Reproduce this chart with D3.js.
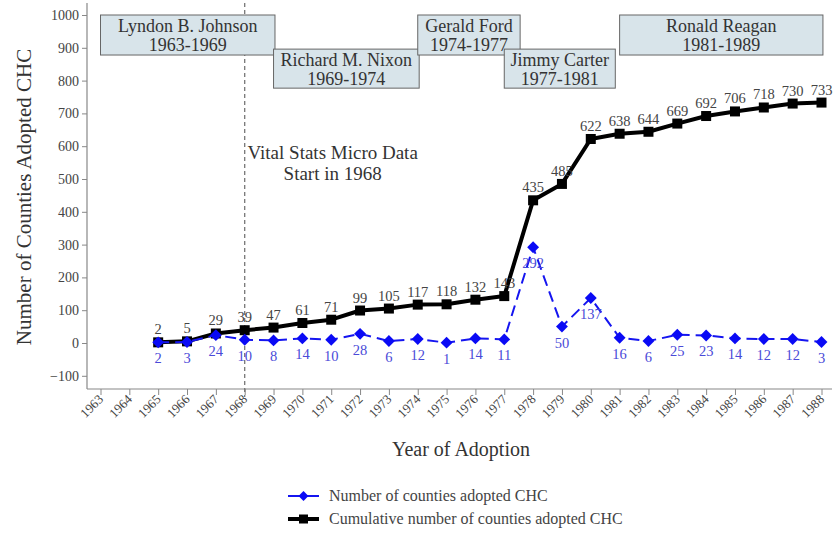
<!DOCTYPE html>
<html><head><meta charset="utf-8">
<script src="https://cdn.jsdelivr.net/npm/d3@7"></script>
<style>body{margin:0;background:#fff}svg{display:block}text{font-family:"Liberation Serif","DejaVu Serif",serif}</style>
</head><body>
<svg id="c" width="835" height="535"></svg>
<script>
const years = [1965,1966,1967,1968,1969,1970,1971,1972,1973,1974,1975,1976,1977,1978,1979,1980,1981,1982,1983,1984,1985,1986,1987,1988];
const adopted = [2,3,24,10,8,14,10,28,6,12,1,14,11,292,50,137,16,6,25,23,14,12,12,3];
const cumulative = [2,5,29,39,47,61,71,99,105,117,118,132,143,435,485,622,638,644,669,692,706,718,730,733];
const xTicks = d3.range(1963,1989);
const yTicks = [-100,0,100,200,300,400,500,600,700,800,900,1000];
const presidents = ["Lyndon B. Johnson","Richard M. Nixon","Gerald Ford","Jimmy Carter","Ronald Reagan"];
const terms = ["1963-1969","1969-1974","1974-1977","1977-1981","1981-1989"];
const boxStart = [1963,1969,1974,1977,1981];
const boxEnd = [1969.05,1974.05,1977.55,1980.85,1988.05];
const boxTop = [1000,896,1000,896,1000];
const boxBottom = [878,777,878,777,878];
const legendLabels = ["Number of counties adopted CHC","Cumulative number of counties adopted CHC"];

const svg = d3.select("#c");
const x = d3.scaleLinear().domain([1963,1988]).range([100.5,821.5]);
const y = d3.scaleLinear().domain([0,1000]).range([343,15]);
const plotLeft = 87, plotRight = 832, plotTop = 3, plotBottom = 389;

// axes
const yAxis = d3.axisLeft(y).tickValues(yTicks).tickFormat(d3.format("d")).tickSize(5).tickPadding(3);
const gy = svg.append("g").attr("transform",`translate(${plotLeft},0)`).call(yAxis);
gy.select(".domain").remove();
gy.selectAll("line").attr("stroke","#888");
gy.selectAll("text").attr("font-size",14).attr("fill","#444");
svg.append("line").attr("x1",plotLeft).attr("x2",plotLeft).attr("y1",plotTop).attr("y2",plotBottom).attr("stroke","#888").attr("stroke-width",1.2);

const xAxis = d3.axisBottom(x).tickValues(xTicks).tickFormat(d3.format("d")).tickSize(6);
const gx = svg.append("g").attr("transform",`translate(0,${plotBottom})`).call(xAxis);
gx.select(".domain").remove();
gx.selectAll("line").attr("stroke","#888");
gx.selectAll("text").attr("font-size",13).attr("fill","#444")
  .attr("text-anchor","end").attr("dy",null).attr("y",0)
  .attr("transform","translate(3,11) rotate(-45)");
svg.append("line").attr("x1",plotLeft).attr("x2",plotRight).attr("y1",plotBottom).attr("y2",plotBottom).attr("stroke","#888").attr("stroke-width",1.2);

// 1968 dashed line
svg.append("line").attr("x1",x(1968)).attr("x2",x(1968)).attr("y1",plotTop).attr("y2",plotBottom+8)
  .attr("stroke","#777").attr("stroke-width",1.3).attr("stroke-dasharray","4,3");

// boxes
presidents.forEach((p,i)=>{
  const x0 = x(boxStart[i]), x1 = x(boxEnd[i]), y0 = y(boxTop[i]), y1 = y(boxBottom[i]);
  svg.append("rect").attr("x",x0).attr("y",y0).attr("width",x1-x0).attr("height",y1-y0)
    .attr("fill","#d8e4ea").attr("stroke","#666").attr("stroke-width",1);
  const cx = (x0+x1)/2;
  svg.append("text").attr("x",cx).attr("y",y0+17).attr("text-anchor","middle").attr("font-size",18).attr("fill","#333").text(p);
  svg.append("text").attr("x",cx).attr("y",y0+36).attr("text-anchor","middle").attr("font-size",18).attr("fill","#333").text(terms[i]);
});

// vital stats note
svg.append("text").attr("x",x(1971.05)).attr("y",y(562)).attr("text-anchor","middle").attr("font-size",19).attr("fill","#333").text("Vital Stats Micro Data");
svg.append("text").attr("x",x(1971.05)).attr("y",y(498)).attr("text-anchor","middle").attr("font-size",19).attr("fill","#333").text("Start in 1968");

// cumulative line
const lineC = d3.line().x((d,i)=>x(years[i])).y(d=>y(d));
svg.append("path").datum(cumulative).attr("d",lineC).attr("fill","none").attr("stroke","#000").attr("stroke-width",4).attr("stroke-linejoin","round");
svg.selectAll(".sq").data(cumulative).enter().append("rect")
  .attr("x",(d,i)=>x(years[i])-5).attr("y",d=>y(d)-5).attr("width",10).attr("height",10).attr("fill","#000");
svg.selectAll(".cl").data(cumulative).enter().append("text")
  .attr("x",(d,i)=>x(years[i])).attr("y",d=>y(d)-8).attr("text-anchor","middle").attr("font-size",14.5).attr("fill","#444").text(d=>d);

// adopted line
const lineA = d3.line().x((d,i)=>x(years[i])).y(d=>y(d));
svg.append("path").datum(adopted).attr("d",lineA).attr("fill","none").attr("stroke","#1515f0").attr("stroke-width",2).attr("stroke-dasharray","11,6");
svg.selectAll(".dm").data(adopted).enter().append("rect")
  .attr("x",-4.2).attr("y",-4.2).attr("width",8.4).attr("height",8.4)
  .attr("transform",(d,i)=>`translate(${x(years[i])},${y(d)}) rotate(45)`).attr("fill","#0a0af5");
svg.selectAll(".al").data(adopted).enter().append("text")
  .attr("x",(d,i)=>x(years[i])).attr("y",d=>y(d)+21).attr("text-anchor","middle").attr("font-size",14.5).attr("fill","#4a4ad8").text(d=>d);

// axis titles
svg.append("text").attr("transform","translate(31,197) rotate(-90)").attr("text-anchor","middle").attr("font-size",21).attr("fill","#333").text("Number of Counties Adopted CHC");
svg.append("text").attr("x",461).attr("y",456).attr("text-anchor","middle").attr("font-size",20).attr("fill","#333").text("Year of Adoption");

// legend
const lg = svg.append("g");
[0,1].forEach(i=>{
  const ly = 496 + i*23;
  if(i===0){
    lg.append("line").attr("x1",288).attr("x2",319).attr("y1",ly).attr("y2",ly).attr("stroke","#1515f0").attr("stroke-width",2);
    lg.append("rect").attr("x",-3.5).attr("y",-3.5).attr("width",7).attr("height",7).attr("transform",`translate(303.5,${ly}) rotate(45)`).attr("fill","#0a0af5");
  } else {
    lg.append("line").attr("x1",288).attr("x2",319).attr("y1",ly).attr("y2",ly).attr("stroke","#000").attr("stroke-width",4);
    lg.append("rect").attr("x",299).attr("y",ly-4.5).attr("width",9).attr("height",9).attr("fill","#000");
  }
  lg.append("text").attr("x",329).attr("y",ly+5).attr("font-size",16).attr("fill","#444").text(legendLabels[i]);
});
</script>
</body></html>
